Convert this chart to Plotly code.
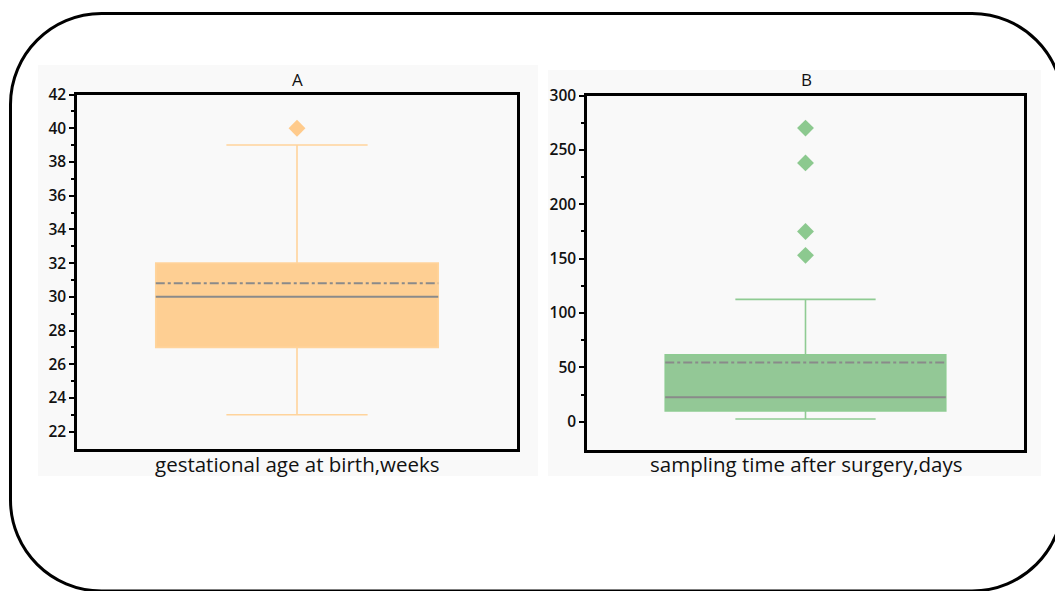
import plotly.graph_objects as go

# ---------------- data ----------------
panel_titles = ["A", "B"]
axis_titles = ["gestational age at birth,weeks", "sampling time after surgery,days"]

a_lowerfence = [23]
a_q1 = [27]
a_median = [30]
a_q3 = [32]
a_upperfence = [39]
a_mean = [30.8]
a_outliers = [40]

b_lowerfence = [2.5]
b_q1 = [10]
b_median = [22.5]
b_q3 = [61.5]
b_upperfence = [112.5]
b_mean = [54.5]
b_outliers = [270, 238, 175, 153]

a_ticks = [22, 24, 26, 28, 30, 32, 34, 36, 38, 40, 42]
b_ticks = [0, 50, 100, 150, 200, 250, 300]

# ---------------- style ----------------
W, H = 1055, 591
FONT = "Open Sans"
BOX_W = 0.642
A_FILL, A_LINE, A_OUT = "#FECF93", "#FFD49C", "#FFCB8C"
B_FILL, B_LINE, B_OUT = "#93C896", "#8FCB93", "#8CC98F"
STAT_GREY = "#8A8A8A"
BG = "#F9F9F9"


def px_x(p):
    return p / W


def px_y(p):
    return 1 - p / H


fig = go.Figure()


def add_panel(idx, lf, q1, med, q3, uf, mean, outs, fill, line, outc):
    xa = "x" if idx == 1 else f"x{idx}"
    ya = "y" if idx == 1 else f"y{idx}"
    fig.add_trace(go.Box(
        x=[0], q1=q1, median=med, q3=q3, lowerfence=lf, upperfence=uf,
        width=BOX_W, whiskerwidth=0.5, fillcolor=fill,
        line=dict(color=line, width=1.6), boxpoints=False,
        xaxis=xa, yaxis=ya, showlegend=False, hoverinfo="skip"))
    fig.add_trace(go.Scatter(
        x=[-BOX_W / 2, BOX_W / 2], y=[med[0], med[0]], mode="lines",
        line=dict(color=STAT_GREY, width=2), xaxis=xa, yaxis=ya,
        showlegend=False, hoverinfo="skip"))
    fig.add_trace(go.Scatter(
        x=[-BOX_W / 2, BOX_W / 2], y=[mean[0], mean[0]], mode="lines",
        line=dict(color=STAT_GREY, width=2, dash="dashdot"), xaxis=xa, yaxis=ya,
        showlegend=False, hoverinfo="skip"))
    fig.add_trace(go.Scatter(
        x=[0] * len(outs), y=outs, mode="markers",
        marker=dict(symbol="diamond", size=13, color=outc, line=dict(width=0)),
        xaxis=xa, yaxis=ya, showlegend=False, hoverinfo="skip"))


add_panel(1, a_lowerfence, a_q1, a_median, a_q3, a_upperfence, a_mean, a_outliers,
          A_FILL, A_LINE, A_OUT)
add_panel(2, b_lowerfence, b_q1, b_median, b_q3, b_upperfence, b_mean, b_outliers,
          B_FILL, B_LINE, B_OUT)

xcommon = dict(range=[-0.5, 0.5], showticklabels=False, ticks="", showgrid=False,
               zeroline=False, showline=True, linecolor="black", linewidth=2.5,
               mirror=True, fixedrange=True, automargin=False)
ycommon = dict(showgrid=False, zeroline=False, showline=True, linecolor="black",
               linewidth=2.5, mirror=True, ticks="outside", ticklen=5, tickwidth=2,
               tickcolor="black", ticklabelstandoff=0, automargin=False,
               tickfont=dict(family=FONT, size=15.5, color="#111111", weight=600),
               fixedrange=True)

fig.update_layout(
    width=W, height=H,
    margin=dict(l=0, r=0, t=0, b=0, pad=0, autoexpand=False),
    paper_bgcolor="white",
    plot_bgcolor=BG,
    font=dict(family=FONT, color="#111111"),
    xaxis=dict(domain=[px_x(77), px_x(517)], anchor="y", **xcommon),
    yaxis=dict(domain=[px_y(448.5), px_y(94.5)], anchor="x", range=[21, 42],
               tickvals=a_ticks,
               minor=dict(tickvals=[t + 1 for t in a_ticks[:-1]], ticks="outside",
                          ticklen=3, tickwidth=2, tickcolor="black"),
               **ycommon),
    xaxis2=dict(domain=[px_x(587), px_x(1024)], anchor="y2", **xcommon),
    yaxis2=dict(domain=[px_y(450), px_y(95.5)], anchor="x2", range=[-26, 300],
                tickvals=b_ticks,
                minor=dict(tickvals=[t + 25 for t in b_ticks[:-1]], ticks="outside",
                           ticklen=3, tickwidth=2, tickcolor="black"),
                **ycommon),
)

# panel backgrounds
shapes = [
    dict(type="rect", xref="paper", yref="paper", layer="below",
         x0=px_x(38), x1=px_x(538), y0=px_y(476), y1=px_y(65),
         fillcolor=BG, line=dict(width=0)),
    dict(type="rect", xref="paper", yref="paper", layer="below",
         x0=px_x(548), x1=px_x(1041), y0=px_y(476), y1=px_y(70),
         fillcolor=BG, line=dict(width=0)),
]

# outer rounded frame
L, T, R, B, r = 10.5, 13.5, 1063, 591, 91
k = 0.5523 * r


def P(x, y):
    return f"{px_x(x):.5f},{px_y(y):.5f}"


path = (
    f"M {P(L + r, T)} L {P(R - r, T)} "
    f"C {P(R - r + k, T)} {P(R, T + r - k)} {P(R, T + r)} "
    f"L {P(R, B - r)} "
    f"C {P(R, B - r + k)} {P(R - r + k, B)} {P(R - r, B)} "
    f"L {P(L + r, B)} "
    f"C {P(L + r - k, B)} {P(L, B - r + k)} {P(L, B - r)} "
    f"L {P(L, T + r)} "
    f"C {P(L, T + r - k)} {P(L + r - k, T)} {P(L + r, T)} Z"
)
shapes.append(dict(type="path", xref="paper", yref="paper", path=path,
                   line=dict(color="black", width=3), fillcolor="rgba(0,0,0,0)",
                   layer="above"))
fig.update_layout(shapes=shapes)

# titles
annotations = []
for t, cx in zip(panel_titles, [297, 806]):
    annotations.append(dict(text=t, xref="paper", yref="paper", x=px_x(cx),
                            y=px_y(79), showarrow=False, xanchor="center",
                            yanchor="middle",
                            font=dict(family=FONT, size=17, color="#111111",
                                      weight=500)))
for t, cx in zip(axis_titles, [297, 806]):
    annotations.append(dict(text=t, xref="paper", yref="paper", x=px_x(cx),
                            y=px_y(464), showarrow=False, xanchor="center",
                            yanchor="middle",
                            font=dict(family=FONT, size=20.5, color="#111111")))
fig.update_layout(annotations=annotations)

fig.write_html(
    "out.html",
    config=dict(displayModeBar=False),
    post_script="document.body.style.margin='0';document.body.style.padding='0';",
)
